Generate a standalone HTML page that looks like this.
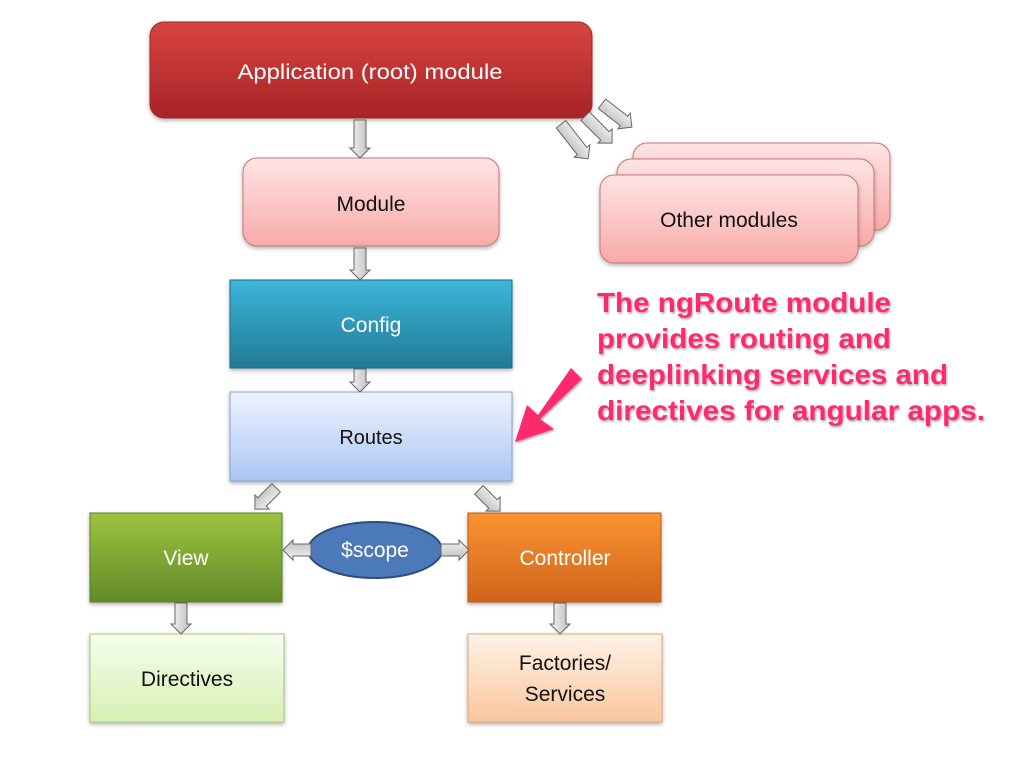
<!DOCTYPE html>
<html><head><meta charset="utf-8"><style>
html,body{margin:0;padding:0;background:#fff;width:1024px;height:768px;overflow:hidden}
svg{display:block}
text{font-family:"Liberation Sans",sans-serif}
</style></head><body>
<svg width="1024" height="768" viewBox="0 0 1024 768">
<defs>
<linearGradient id="gRed" x1="0" y1="0" x2="0" y2="1"><stop offset="0" stop-color="#d84442"/><stop offset="1" stop-color="#a82326"/></linearGradient>
<linearGradient id="gPink" x1="0" y1="0" x2="0" y2="1"><stop offset="0" stop-color="#ffe4e4"/><stop offset="1" stop-color="#f8a9a9"/></linearGradient>
<linearGradient id="gTeal" x1="0" y1="0" x2="0" y2="1"><stop offset="0" stop-color="#3cb6da"/><stop offset="1" stop-color="#217a94"/></linearGradient>
<linearGradient id="gBlue" x1="0" y1="0" x2="0" y2="1"><stop offset="0" stop-color="#eef3ff"/><stop offset="1" stop-color="#aac6f4"/></linearGradient>
<linearGradient id="gGreen" x1="0" y1="0" x2="0" y2="1"><stop offset="0" stop-color="#9cc43e"/><stop offset="1" stop-color="#628a2a"/></linearGradient>
<linearGradient id="gOrange" x1="0" y1="0" x2="0" y2="1"><stop offset="0" stop-color="#fb9332"/><stop offset="1" stop-color="#d0641a"/></linearGradient>
<linearGradient id="gLGreen" x1="0" y1="0" x2="0" y2="1"><stop offset="0" stop-color="#f6ffee"/><stop offset="1" stop-color="#d6efb2"/></linearGradient>
<linearGradient id="gPeach" x1="0" y1="0" x2="0" y2="1"><stop offset="0" stop-color="#fff2e6"/><stop offset="1" stop-color="#f9c69e"/></linearGradient>
<linearGradient id="gArr" x1="0" y1="0" x2="0" y2="1"><stop offset="0" stop-color="#f4f4f4"/><stop offset="1" stop-color="#bdbdbd"/></linearGradient>
<linearGradient id="gArrV" x1="0" y1="0" x2="1" y2="0"><stop offset="0" stop-color="#f4f4f4"/><stop offset="1" stop-color="#bdbdbd"/></linearGradient>
<filter id="sh" x="-10%" y="-10%" width="120%" height="130%"><feDropShadow dx="0" dy="2" stdDeviation="2" flood-color="#000" flood-opacity="0.3"/></filter>
<filter id="tsh" x="-5%" y="-5%" width="110%" height="120%"><feDropShadow dx="1" dy="1.5" stdDeviation="1" flood-color="#000" flood-opacity="0.35"/></filter>
</defs>

<!-- boxes -->
<rect x="150" y="22" width="442" height="96" rx="14" fill="url(#gRed)" stroke="#9a2a2a" filter="url(#sh)"/>
<text x="370" y="79" font-size="21" fill="#fff" text-anchor="middle" textLength="265" lengthAdjust="spacingAndGlyphs">Application (root) module</text>

<rect x="243" y="158" width="256" height="88" rx="14" fill="url(#gPink)" stroke="#c87878" filter="url(#sh)"/>
<text x="371" y="211" font-size="21" fill="#111" text-anchor="middle">Module</text>

<rect x="633" y="143" width="257" height="87" rx="14" fill="url(#gPink)" stroke="#c87878" filter="url(#sh)"/>
<rect x="617" y="159" width="257" height="87" rx="14" fill="url(#gPink)" stroke="#c87878" filter="url(#sh)"/>
<rect x="600" y="175" width="258" height="88" rx="14" fill="url(#gPink)" stroke="#c87878" filter="url(#sh)"/>
<text x="729" y="227" font-size="21" fill="#111" text-anchor="middle">Other modules</text>

<rect x="230" y="280" width="282" height="88" fill="url(#gTeal)" stroke="#1f6a80" filter="url(#sh)"/>
<text x="371" y="332" font-size="21" fill="#fff" text-anchor="middle">Config</text>

<rect x="230" y="392" width="282" height="89" fill="url(#gBlue)" stroke="#8aa2d2" filter="url(#sh)"/>
<text x="371" y="444" font-size="20" fill="#111" text-anchor="middle">Routes</text>

<rect x="90" y="513" width="192" height="89" fill="url(#gGreen)" stroke="#5b7f25" filter="url(#sh)"/>
<text x="186" y="565" font-size="21" fill="#fff" text-anchor="middle">View</text>

<rect x="468" y="513" width="193" height="89" fill="url(#gOrange)" stroke="#b85a18" filter="url(#sh)"/>
<text x="565" y="565" font-size="21" fill="#fff" text-anchor="middle">Controller</text>

<rect x="90" y="634" width="194" height="88" fill="url(#gLGreen)" stroke="#a8c880" filter="url(#sh)"/>
<text x="187" y="686" font-size="21" fill="#111" text-anchor="middle">Directives</text>

<rect x="468" y="634" width="194" height="88" fill="url(#gPeach)" stroke="#e0a880" filter="url(#sh)"/>
<text x="565" y="670" font-size="21" fill="#111" text-anchor="middle">Factories/</text>
<text x="565" y="701" font-size="21" fill="#111" text-anchor="middle">Services</text>

<ellipse cx="375" cy="550" rx="67" ry="28" fill="#4b79b9" stroke="#2c4d7e" stroke-width="2"/>
<text x="375" y="557" font-size="21" fill="#fff" text-anchor="middle">$scope</text>

<!-- vertical arrows -->
<polygon points="354,120 366,120 366,148 370,148 360,158 350,148 354,148" fill="url(#gArrV)" stroke="#666"/>
<polygon points="354,248 366,248 366,270 370,270 360,280 350,270 354,270" fill="url(#gArrV)" stroke="#666"/>
<polygon points="354,369 366,369 366,382 370,382 360,392 350,382 354,382" fill="url(#gArrV)" stroke="#666"/>
<polygon points="175,603 187,603 187,624 191,624 181,634 171,624 175,624" fill="url(#gArrV)" stroke="#666"/>
<polygon points="554,603 566,603 566,624 570,624 560,634 550,624 554,624" fill="url(#gArrV)" stroke="#666"/>

<g transform="translate(262,502) rotate(135)"><polygon points="-20,-6 0,-6 0,-10 10,0 0,10 0,6 -20,6" fill="url(#gArr)" stroke="#666"/></g>
<g transform="translate(493,504) rotate(45)"><polygon points="-20,-6 0,-6 0,-10 10,0 0,10 0,6 -20,6" fill="url(#gArr)" stroke="#666"/></g>

<g transform="translate(293,550) rotate(180)"><polygon points="-18,-6 0,-6 0,-10 10,0 0,10 0,6 -18,6" fill="url(#gArr)" stroke="#666"/></g>
<g transform="translate(459,550)"><polygon points="-18,-6 0,-6 0,-10 10,0 0,10 0,6 -18,6" fill="url(#gArr)" stroke="#666"/></g>

<g transform="translate(582,151) rotate(52)"><polygon points="-34,-6 0,-6 0,-10 10,0 0,10 0,6 -34,6" fill="url(#gArr)" stroke="#666"/></g>
<g transform="translate(605,136) rotate(45)"><polygon points="-28,-6 0,-6 0,-10 10,0 0,10 0,6 -28,6" fill="url(#gArr)" stroke="#666"/></g>
<g transform="translate(624,121) rotate(38)"><polygon points="-28,-6 0,-6 0,-10 10,0 0,10 0,6 -28,6" fill="url(#gArr)" stroke="#666"/></g>

<!-- pink annotation -->
<g filter="url(#tsh)" fill="#ff2c6e" font-weight="bold" font-size="28">
<text x="597" y="312" textLength="294" lengthAdjust="spacingAndGlyphs">The ngRoute module</text>
<text x="597" y="348" textLength="294" lengthAdjust="spacingAndGlyphs">provides routing and</text>
<text x="597" y="384" textLength="351" lengthAdjust="spacingAndGlyphs">deeplinking services and</text>
<text x="597" y="420" textLength="388" lengthAdjust="spacingAndGlyphs">directives for angular apps.</text>
<polygon points="571,368 582,379 540,419 554,429 515,442 527,405 538,415" fill="#ff2c6e"/>
</g>
</svg>
</body></html>
